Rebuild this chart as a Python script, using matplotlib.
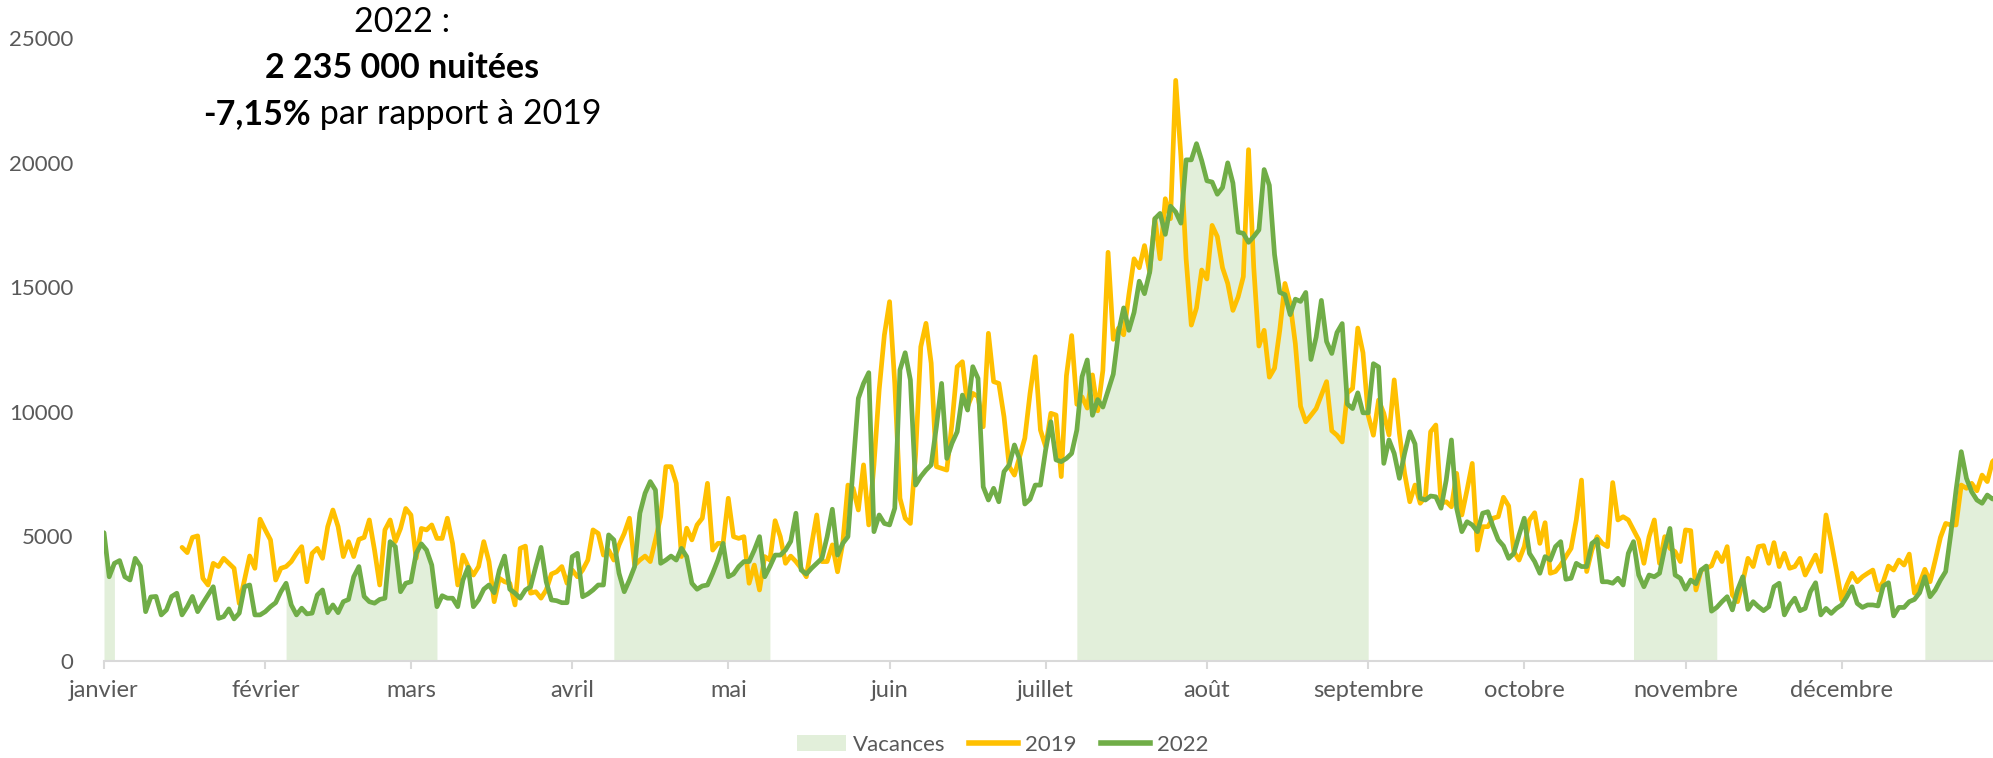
import numpy as np
import pandas as pd
import matplotlib
matplotlib.use('Agg')
import matplotlib.pyplot as plt
import matplotlib.dates as mdates
from matplotlib.patches import Patch
from matplotlib.lines import Line2D

plt.rcParams['font.family'] = ['Lato', 'DejaVu Sans']

# Nuitées journalières 2022 (1er janvier -> 31 décembre)
nuitees_2022 = [
    5150, 3380, 3920, 4030, 3380, 3250, 4120, 3810, 1980, 2570,
    2590, 1850, 2050, 2590, 2720, 1850, 2180, 2590, 1980, 2320,
    2650, 2980, 1710, 1780, 2090, 1690, 1920, 2980, 3050, 1850,
    1850, 1980, 2180, 2340, 2780, 3120, 2250, 1850, 2120, 1890,
    1920, 2650, 2850, 1940, 2250, 1940, 2380, 2470, 3380, 3790,
    2590, 2380, 2320, 2470, 2520, 4790, 4590, 2780, 3120, 3180,
    4320, 4700, 4450, 3850, 2180, 2620, 2520, 2520, 2180, 3250,
    3760, 2180, 2450, 2880, 3050, 2740, 3650, 4210, 2880, 2720,
    2520, 2850, 2980, 3790, 4560, 3180, 2450, 2420, 2340, 2340,
    4190, 4320, 2580, 2690, 2850, 3050, 3050, 5060, 4860, 3520,
    2780, 3250, 3790, 5930, 6730, 7200, 6860, 3920, 4050, 4210,
    4050, 4520, 4190, 3120, 2880, 3010, 3050, 3520, 4050, 4720,
    3380, 3490, 3790, 3990, 3990, 4450, 4990, 3380, 3790, 4250,
    4250, 4450, 4800, 5930, 3650, 3490, 3720, 3920, 4120, 4990,
    6090, 4250, 4720, 4990, 7800, 10540, 11140, 11570, 5190, 5860,
    5520, 5460, 6130, 11680, 12370, 11280, 7060, 7400, 7660, 7870,
    9400, 11140, 8130, 8740, 9200, 10670, 10070, 11810, 11340, 6990,
    6460, 6930, 6390, 7600, 7870, 8670, 8090, 6300, 6490, 7060,
    7060, 8470, 9600, 8070, 8000, 8130, 8330, 9270, 11410, 12080,
    9860, 10490, 10190, 10850, 11510, 13180, 14170, 13270, 13990, 15240,
    14740, 15600, 17750, 17960, 17120, 18250, 18020, 17570, 20110, 20110,
    20760, 20080, 19270, 19220, 18730, 19000, 19990, 19180, 17210, 17160,
    16800, 17030, 17300, 19720, 19090, 16310, 14790, 14700, 13900, 14520,
    14430, 14790, 12100, 13000, 14470, 12820, 12340, 13180, 13540, 10310,
    10130, 10760, 9960, 9960, 11930, 11800, 7930, 8870, 8330, 7330,
    8330, 9200, 8710, 6530, 6460, 6620, 6590, 6130, 7260, 8870,
    6130, 5190, 5590, 5460, 5190, 5930, 5990, 5390, 4860, 4620,
    4120, 4320, 5060, 5730, 4320, 3990, 3520, 4190, 4050, 4590,
    4790, 3280, 3320, 3920, 3790, 3790, 4720, 4880, 3180, 3180,
    3120, 3320, 3050, 4320, 4790, 3450, 2980, 3450, 3380, 3520,
    4520, 5320, 3450, 3320, 2880, 3250, 3100, 3650, 3810, 2000,
    2150, 2380, 2580, 2050, 2850, 3380, 2070, 2380, 2180, 2020,
    2180, 2980, 3120, 1850, 2250, 2520, 2020, 2110, 2780, 3140,
    1850, 2110, 1910, 2110, 2250, 2580, 2980, 2310, 2150, 2250,
    2250, 2210, 3010, 3140, 1810, 2150, 2150, 2380, 2470, 2740,
    3380, 2580, 2850, 3250, 3590, 5120, 6860, 8400, 7330, 6790,
    6460, 6330, 6660, 6500, 6600,
]

# Nuitées journalières 2019 (données absentes avant le 16 janvier)
nuitees_2019 = [None] * 15 + [
    4560, 4350, 4960, 5020, 3320,
    3050, 3920, 3790, 4120, 3920, 3720, 2310, 3250, 4215, 3720,
    5690, 5260, 4860, 3250, 3720, 3790, 3990, 4320, 4590, 3180,
    4320, 4520, 4120, 5390, 6060, 5390, 4190, 4790, 4190, 4880,
    4960, 5660, 4450, 3050, 5260, 5660, 4790, 5320, 6120, 5860,
    4120, 5320, 5260, 5460, 4920, 4920, 5730, 4720, 3050, 4250,
    3790, 3450, 3790, 4790, 3990, 2380, 3320, 3180, 3120, 2250,
    4520, 4610, 2720, 2780, 2520, 2850, 3490, 3580, 3790, 3120,
    3650, 3380, 3650, 4050, 5260, 5120, 4250, 4450, 4050, 4660,
    5120, 5730, 3850, 4050, 4210, 3990, 4860, 5790, 7800, 7800,
    7130, 4190, 5330, 4860, 5460, 5730, 7130, 4450, 4720, 4720,
    6530, 4990, 4920, 4990, 3120, 3850, 2850, 4190, 4050, 5630,
    4990, 3920, 4210, 3990, 3720, 3380, 4660, 5860, 3990, 3990,
    4660, 3580, 4720, 7060, 6930, 6060, 7870, 5460, 7870, 10880,
    13080, 14420, 11140, 6530, 5730, 5520, 8270, 12610, 13550, 11950,
    7800, 7730, 7660, 9540, 11810, 12010, 10210, 10740, 10610, 9400,
    13150, 11210, 11140, 9800, 7800, 7460, 8200, 8940, 10740, 12210,
    9270, 8600, 9940, 9870, 7400, 11450, 13060, 10300, 10600, 10150,
    11480, 10040, 11660, 16400, 12910, 13360, 13090, 14700, 16140, 15780,
    16670, 15600, 17750, 16140, 18550, 17750, 23300, 20260, 16140, 13480,
    14170, 15690, 15330, 17480, 17030, 15780, 15150, 14070, 14610, 15420,
    20520, 15800, 12640, 13270, 11390, 11750, 13270, 15150, 14340, 12730,
    10220, 9600, 9860, 10130, 10670, 11210, 9240, 9060, 8790, 10760,
    10940, 13360, 12370, 9860, 9060, 10470, 9940, 9070, 11280, 9140,
    7530, 6390, 7060, 6330, 6590, 9200, 9470, 6330, 6390, 6190,
    7530, 5860, 6860, 7930, 4450, 5390, 5390, 5730, 5790, 6570,
    6220, 4390, 4050, 4590, 5660, 5950, 4720, 5550, 3520, 3590,
    3850, 4190, 4520, 5660, 7260, 3590, 4450, 4990, 4720, 4590,
    7160, 5660, 5790, 5660, 5260, 4860, 3920, 4990, 5660, 3920,
    4990, 4520, 4390, 3990, 5260, 5230, 2850, 3650, 3720, 3820,
    4350, 3990, 4590, 2650, 2380, 3180, 4120, 3790, 4590, 4630,
    3920, 4750, 3790, 4320, 3720, 3790, 4120, 3450, 3850, 4250,
    3590, 5860, 4790, 3650, 2450, 3050, 3520, 3180, 3380, 3520,
    3650, 2850, 3180, 3810, 3650, 4050, 3850, 4290, 2720, 3120,
    3680, 3180, 4050, 4960, 5520, 5460, 5460, 7060, 6930, 7130,
    6830, 7460, 7200, 8000, 8200,
]

# Périodes de vacances scolaires 2022 (début, fin)
vacances = [
    ('2022-01-01', '2022-01-03'),
    ('2022-02-05', '2022-03-06'),
    ('2022-04-09', '2022-05-09'),
    ('2022-07-07', '2022-09-01'),
    ('2022-10-22', '2022-11-07'),
    ('2022-12-17', '2022-12-31'),
]

mois = ['janvier', 'février', 'mars', 'avril', 'mai', 'juin', 'juillet',
        'août', 'septembre', 'octobre', 'novembre', 'décembre']

jours = pd.date_range('2022-01-01', '2022-12-31', freq='D')
s2022 = pd.Series(nuitees_2022, index=jours, dtype=float)
s2019 = pd.Series(nuitees_2019, index=jours, dtype=float)

W, H = 1993, 758
fig = plt.figure(figsize=(W / 100, H / 100), dpi=100)
ax = fig.add_axes([104 / W, 1 - 661 / H, 1 - 104 / W, (661 - 38) / H])

vert_clair = '#E2EFDA'
jaune = '#FFC000'
vert = '#70AD47'
gris = '#595959'

for debut, fin in vacances:
    seg = s2022[debut:fin]
    ax.fill_between(seg.index, 0, seg.values, color=vert_clair, lw=0, zorder=1)

ax.plot(s2019.index, s2019.values, color=jaune, lw=3.4, zorder=2,
        solid_joinstyle='round', solid_capstyle='round')
ax.plot(s2022.index, s2022.values, color=vert, lw=3.4, zorder=3,
        solid_joinstyle='round', solid_capstyle='round')

ax.set_ylim(0, 25000)
ax.set_yticks(np.arange(0, 25001, 5000))
ax.set_xlim(jours[0], jours[0] + pd.Timedelta(days=363.1))

ax.set_xticks(pd.date_range('2022-01-01', periods=12, freq='MS'))
ax.set_xticklabels(mois)

for side in ['top', 'right', 'left']:
    ax.spines[side].set_visible(False)
ax.spines['bottom'].set_color('#D9D9D9')
ax.spines['bottom'].set_linewidth(1.5)

ax.tick_params(axis='y', length=0, labelsize=16, labelcolor=gris, pad=22)
ax.tick_params(axis='x', length=6, width=1.5, color='#D9D9D9',
               labelsize=17, labelcolor=gris, pad=8)

# Encadré texte
cx = 402 / W
fs = 24.5
fig.text(cx, 1 - 22 / H, '2022 :', ha='center', va='center', fontsize=fs)
fig.text(cx, 1 - 68 / H, '2 235 000 nuitées', ha='center', va='center',
         fontsize=fs, fontweight='bold')
t1 = fig.text(0, 1 - 114 / H, '-7,15%', ha='left', va='center',
              fontsize=fs, fontweight='bold')
t2 = fig.text(0, 1 - 114 / H, ' par rapport à 2019', ha='left', va='center',
              fontsize=fs)
r = fig.canvas.get_renderer()
w1 = t1.get_window_extent(r).width / W
w2 = t2.get_window_extent(r).width / W
x0 = cx - (w1 + w2) / 2
t1.set_x(x0)
t2.set_x(x0 + w1)

handles = [
    Patch(facecolor=vert_clair, edgecolor='none', label='Vacances'),
    Line2D([], [], color=jaune, lw=4, label='2019'),
    Line2D([], [], color=vert, lw=4, label='2022'),
]
leg = fig.legend(handles=handles, loc='center', bbox_to_anchor=(0.503, 1 - 745 / H),
                 ncol=3, frameon=False, fontsize=16, handlelength=2.2,
                 handletextpad=0.3, columnspacing=1.1)
for t in leg.get_texts():
    t.set_color(gris)

fig.savefig('out.png', dpi=100)
